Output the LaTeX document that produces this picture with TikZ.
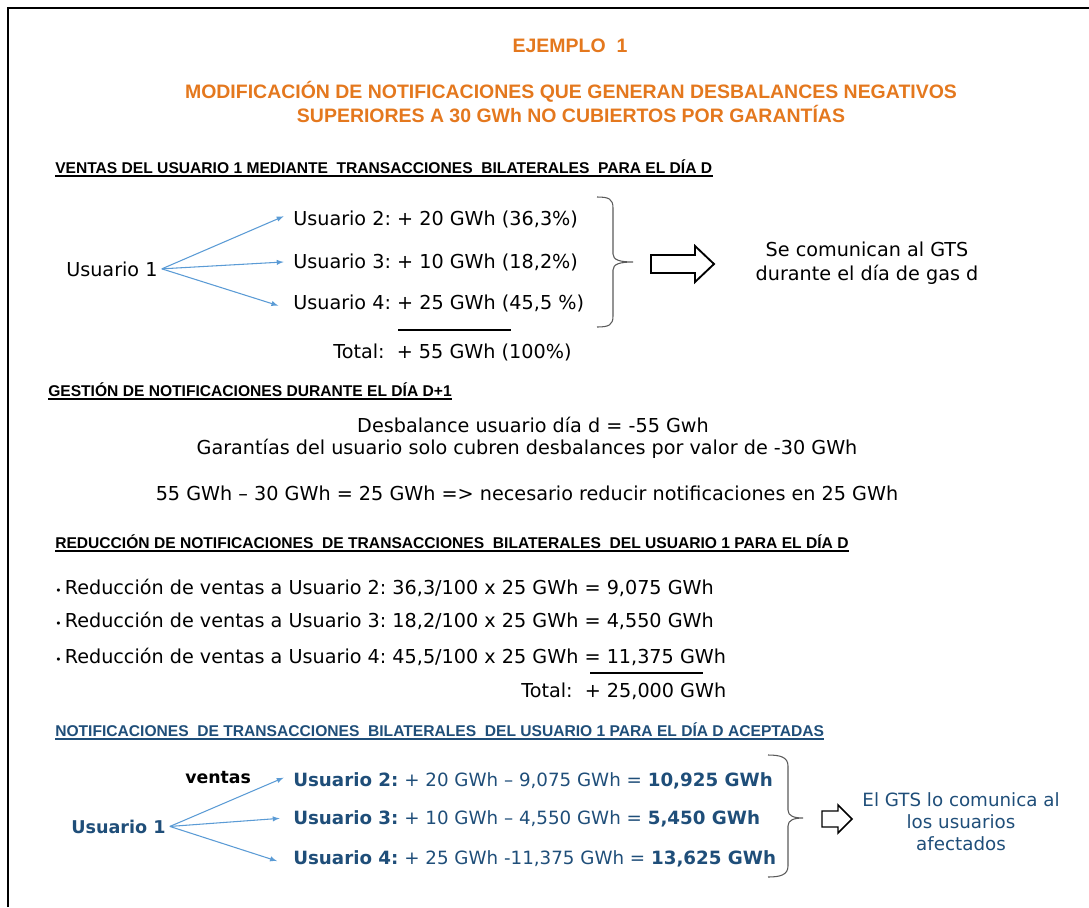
\documentclass[tikz,border=0pt]{standalone}
\usepackage{fontspec}
\setmainfont{DejaVu Sans}
\newfontfamily\hdrfont{Liberation Sans}
\usetikzlibrary{positioning,arrows}
\definecolor{ejorange}{RGB}{228,120,30}
\definecolor{ejblue}{RGB}{31,78,121}
\definecolor{arrowblue}{RGB}{91,155,213}
\definecolor{bracegray}{RGB}{90,90,90}
\tikzset{
  txt/.style={font=\fontsize{14.4}{17}\selectfont, inner sep=0pt, anchor=base west},
  ctxt/.style={txt, anchor=base},
  btxt/.style={font=\fontsize{13.7}{16}\selectfont, inner sep=0pt, anchor=base west, text=ejblue},
  ttl/.style={font=\hdrfont\bfseries\fontsize{14.6}{17}\selectfont, text=ejorange, inner sep=0pt, anchor=base},
  hdr/.style={font=\hdrfont\bfseries\fontsize{11.7}{13}\selectfont, inner sep=0pt, anchor=base west},
  venta/.style={draw=arrowblue, line width=0.8pt, -latex},
  llave/.style={draw=bracegray, line width=0.8pt},
  bloque/.style={draw, line width=1.4pt, fill=white, line join=miter},
  raya/.style={line width=1.6pt}
}
\newcommand{\ul}[2][black]{\draw[#1, line width=1.3pt] ([yshift=-2pt]#2.base west) -- ([yshift=-2pt]#2.base east);}
\begin{document}
\frenchspacing
\begin{tikzpicture}[x=0.75pt,y=-0.75pt]
\useasboundingbox (0,0) rectangle (1089,907);
\draw[line width=1.2pt] (8,907) -- (8,8) -- (1089,8);

% titulo
\node[ttl] (ej) at (570,52) {EJEMPLO\ \ 1};
\node[ttl] (t1) at (571,98) {MODIFICACIÓN DE NOTIFICACIONES QUE GENERAN DESBALANCES NEGATIVOS};
\node[ttl] (t2) at (571,122) {SUPERIORES A 30 GWh NO CUBIERTOS POR GARANTÍAS};

% ventas dia D
\node[hdr] (h1) at (55,173) {VENTAS DEL USUARIO 1 MEDIANTE\ \ TRANSACCIONES\ \ BILATERALES\ \ PARA EL DÍA D};
\ul{h1}
\node[txt] (u1) at (66,276) {Usuario 1};
\node[txt] (u2) at (293,225) {Usuario 2: + 20 GWh (36,3\%)};
\node[txt] (u3) at (293,268) {Usuario 3: + 10 GWh (18,2\%)};
\node[txt] (u4) at (293,309) {Usuario 4: + 25 GWh (45,5 \%)};
\draw[venta] ([xshift=3pt]u1.east) -- ([xshift=-7pt,yshift=2pt]u2.west);
\draw[venta] ([xshift=3pt]u1.east) -- ([xshift=-7pt]u3.west);
\draw[venta] ([xshift=3pt]u1.east) -- ([xshift=-11pt,yshift=-2pt]u4.west);
\draw[llave] (597,197) .. controls (609,197) and (613,199) .. (613,208) -- (613,254)
  .. controls (613,260) and (620,262) .. (633,262) .. controls (620,262) and (613,264) .. (613,270)
  -- (613,316) .. controls (613,325) and (609,327) .. (597,327);
\draw[bloque] (651,255) -- (695,255) -- (695,246) -- (714,264) -- (695,282) -- (695,273) -- (651,273) -- cycle;
\node[ctxt] (gts1) at (867,256) {Se comunican al GTS};
\node[ctxt] (gts2) at (867,280) {durante el día de gas d};
\draw[raya] (398,330) -- (511,330);
\node[txt] (tot1) at (333,358) {Total:\ \ + 55 GWh (100\%)};

% gestion D+1
\node[hdr] (h2) at (48,396) {GESTIÓN DE NOTIFICACIONES DURANTE EL DÍA D+1};
\ul{h2}
\node[ctxt] (des) at (533,432) {Desbalance usuario día d = -55 Gwh};
\node[ctxt] (gar) at (527,454) {Garantías del usuario solo cubren desbalances por valor de -30 GWh};
\node[ctxt] (dif) at (527,500) {55 GWh – 30 GWh = 25 GWh => necesario reducir notificaciones en 25 GWh};

% reduccion
\node[hdr] (h3) at (55,548) {REDUCCIÓN DE NOTIFICACIONES\ \ DE TRANSACCIONES\ \ BILATERALES\ \ DEL USUARIO 1 PARA EL DÍA D};
\ul{h3}
\node[txt] (r2) at (55,594) {{\fontsize{8}{8}\selectfont•}\,Reducción de ventas a Usuario 2: 36,3/100 x 25 GWh = 9,075 GWh};
\node[txt] (r3) at (55,627) {{\fontsize{8}{8}\selectfont•}\,Reducción de ventas a Usuario 3: 18,2/100 x 25 GWh = 4,550 GWh};
\node[txt] (r4) at (55,663) {{\fontsize{8}{8}\selectfont•}\,Reducción de ventas a Usuario 4: 45,5/100 x 25 GWh = 11,375 GWh};
\draw[raya] (590,673) -- (703,673);
\node[txt] (tot2) at (521,697) {Total:\ \ + 25,000 GWh};

% aceptadas
\node[hdr, text=ejblue] (h4) at (55,736) {NOTIFICACIONES\ \ DE TRANSACCIONES\ \ BILATERALES\ \ DEL USUARIO 1 PARA EL DÍA D ACEPTADAS};
\ul[ejblue]{h4}
\node[btxt, text=black, font=\bfseries\fontsize{13}{16}\selectfont] (vt) at (185,783) {ventas};
\node[btxt, font=\bfseries\fontsize{13.2}{16}\selectfont] (a1) at (71,833) {Usuario 1};
\node[btxt] (a2) at (293,786) {\textbf{Usuario 2:} + 20 GWh – 9,075 GWh = \textbf{10,925 GWh}};
\node[btxt] (a3) at (293,824) {\textbf{Usuario 3:} + 10 GWh – 4,550 GWh = \textbf{5,450 GWh}};
\node[btxt] (a4) at (293,864) {\textbf{Usuario 4:} + 25 GWh -11,375 GWh = \textbf{13,625 GWh}};
\draw[venta] ([xshift=3pt]a1.east) -- ([xshift=-7pt,yshift=2pt]a2.west);
\draw[venta] ([xshift=3pt]a1.east) -- ([xshift=-10pt]a3.west);
\draw[venta] ([xshift=3pt]a1.east) -- ([xshift=-12pt,yshift=-2pt]a4.west);
\draw[llave] (768,755) .. controls (780,755) and (788,757) .. (788,766) -- (788,810)
  .. controls (788,816) and (794,818) .. (803,818) .. controls (794,818) and (788,820) .. (788,826)
  -- (788,866) .. controls (788,875) and (780,877) .. (768,877);
\draw[bloque, line width=1.1pt] (822,811) -- (838,811) -- (838,805) -- (852,819) -- (838,833) -- (838,827) -- (822,827) -- cycle;
\node[btxt, anchor=base] (co1) at (961,806) {El GTS lo comunica al};
\node[btxt, anchor=base] (co2) at (961,828) {los usuarios};
\node[btxt, anchor=base] (co3) at (961,850) {afectados};
\end{tikzpicture}
\end{document}
